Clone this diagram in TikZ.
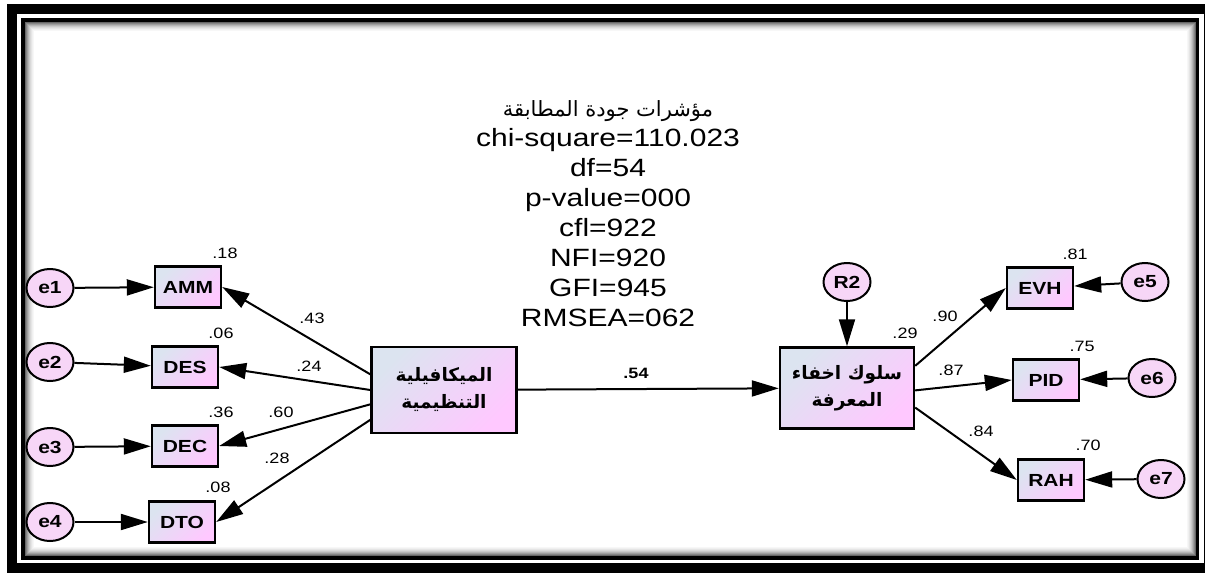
\documentclass[tikz,border=0pt]{standalone}
\usepackage{fontspec}
\setmainfont{Liberation Sans}[FakeStretch=1.2]
\newfontfamily\arabicfont[Script=Arabic]{DejaVu Sans}
\TeXXeTstate=1
\usetikzlibrary{shapes.geometric,arrows.meta}

\definecolor{boxgrey}{RGB}{220,228,240}
\definecolor{boxpink}{RGB}{255,200,255}
\definecolor{errpink}{RGB}{247,214,247}

\tikzset{
  obsbox/.style={draw, line width=2.4pt, top color=boxgrey, bottom color=boxpink,
    shading angle=45, minimum width=66pt, minimum height=41pt, inner sep=0pt,
    font=\fontsize{17.5}{17.5}\selectfont\bfseries},
  bigbox/.style={obsbox, align=center, font=\arabicfont\bfseries\fontsize{18.5}{27}\selectfont},
  errnode/.style={draw, ellipse, line width=2pt, fill=errpink, minimum width=47pt,
    minimum height=38pt, inner sep=0pt, font=\fontsize{17.5}{17.5}\selectfont\bfseries},
  link/.style={line width=2pt, -{Triangle[length=27pt,width=16pt]}},
  coef/.style={font=\fontsize{15}{15}\selectfont}
}

\begin{document}
\begin{tikzpicture}[x=1pt, y=-1pt]
  \useasboundingbox (0,0) rectangle (1205,573);
  % frame
  \draw[line width=10pt] (12,8.5) rectangle (1209,568);
  \foreach \i/\g in {1/60,2/48,3/38,4/29,5/21,6/15,7/10,8/6,9/3}
    \draw[black!\g, line width=1pt] ({24.75+\i-0.5},{21.75+\i-0.5}) rectangle ({1195.75-\i+0.5},{556.25-\i+0.5});
  \draw[line width=3.5pt] (23,20) rectangle (1197.5,558);

  % fit indices
  \node[align=center, font=\fontsize{25}{30}\selectfont] (fit) at (608,214)
    {{\arabicfont\fontsize{21}{30}\selectfont\beginR مؤشرات جودة المطابقة\endR}\\
     chi-square=110.023\\ df=54\\ p-value=000\\ cfl=922\\ NFI=920\\ GFI=945\\ RMSEA=062};

  % left side
  \node[errnode] (e1) at (50,288) {e1};
  \node[errnode] (e2) at (50,362) {e2};
  \node[errnode] (e3) at (50,447) {e3};
  \node[errnode] (e4) at (50,522) {e4};
  \node[obsbox] (amm) at (188,287) {AMM};
  \node[obsbox] (des) at (185,367) {DES};
  \node[obsbox] (dec) at (185,446) {DEC};
  \node[obsbox] (dto) at (182,522) {DTO};
  \node[bigbox, minimum width=145pt, minimum height=86pt] (mach) at (444,390)
    {\beginR الميكافيلية\endR\\ \beginR التنظيمية\endR};

  % right side
  \node[bigbox, minimum width=134pt, minimum height=81pt] (hide) at (847,388)
    {\beginR سلوك اخفاء\endR\\ \beginR المعرفة\endR};
  \node[errnode] (r2) at (847,282) {R2};
  \node[obsbox] (evh) at (1040,288) {EVH};
  \node[obsbox] (pid) at (1046,380) {PID};
  \node[obsbox] (rah) at (1051,480) {RAH};
  \node[errnode] (e5) at (1145,282) {e5};
  \node[errnode] (e6) at (1152,378) {e6};
  \node[errnode] (e7) at (1161,479) {e7};

  % paths
  \draw[link] (e1) -- (amm);
  \draw[link] (e2) -- (des);
  \draw[link] (e3) -- (dec);
  \draw[link] (e4) -- (dto);
  \draw[link] (mach.168) -- (amm.east);
  \draw[link] (mach.180) -- (des.east);
  \draw[link] (mach.191) -- (dec.east);
  \draw[link] (mach.202) -- (dto.east);
  \draw[link] (mach) -- (hide);
  \draw[link] (r2) -- (hide);
  \draw[link] (hide.18) -- (evh.west);
  \draw[link] (hide.358) -- (pid.west);
  \draw[link] (hide.344) -- (rah.west);
  \draw[link] (e5) -- (evh);
  \draw[link] (e6) -- (pid);
  \draw[link] (e7) -- (rah);

  % estimates
  \node[coef] (r-amm) at (225,253) {.18};
  \node[coef] (r-des) at (221,333) {.06};
  \node[coef] (r-dec) at (221,412) {.36};
  \node[coef] (r-dto) at (218,487) {.08};
  \node[coef] (w-amm) at (312,318) {.43};
  \node[coef] (w-des) at (309,366) {.24};
  \node[coef] (w-dec) at (281,412) {.60};
  \node[coef] (w-dto) at (277,458) {.28};
  \node[coef, font=\fontsize{15}{15}\selectfont\bfseries] (w-hide) at (636,373) {.54};
  \node[coef] (r-hide) at (905,333) {.29};
  \node[coef] (w-evh) at (945,316) {.90};
  \node[coef] (w-pid) at (951,370) {.87};
  \node[coef] (w-rah) at (981,431) {.84};
  \node[coef] (r-evh) at (1075,254) {.81};
  \node[coef] (r-pid) at (1082,346) {.75};
  \node[coef] (r-rah) at (1088,445) {.70};
\end{tikzpicture}
\end{document}
